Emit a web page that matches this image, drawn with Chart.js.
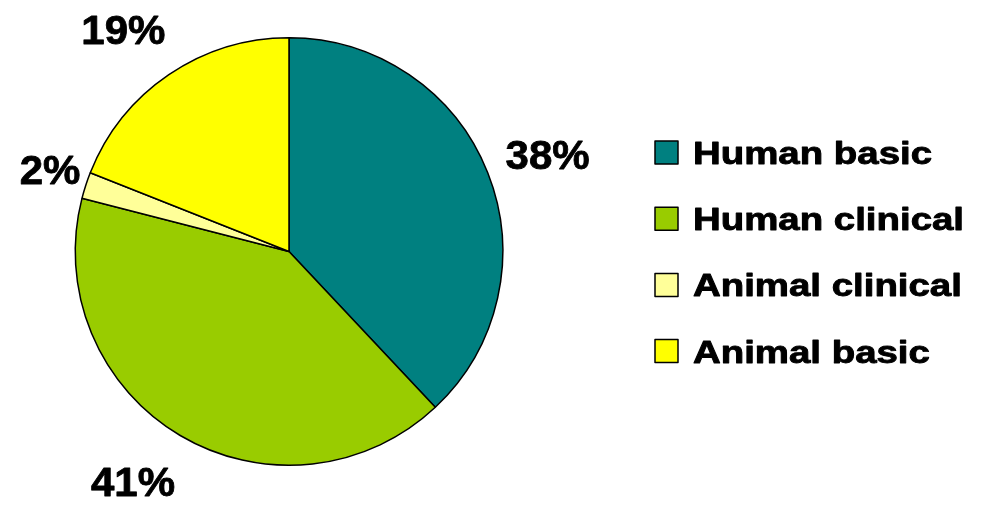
<!DOCTYPE html>
<html>
<head>
<meta charset="utf-8">
<title>Research distribution</title>
<script src="https://cdn.jsdelivr.net/npm/chart.js@4.4.1/dist/chart.umd.min.js"></script>
<style>
  html, body { margin: 0; padding: 0; background: #fff; }
  #wrap { width: 986px; height: 505px; position: relative; }
</style>
</head>
<body>
<div id="wrap"><canvas id="chart"></canvas></div>
<script>
// chart data
const categories = ['Human basic', 'Human clinical', 'Animal clinical', 'Animal basic'];
const shares = [38, 41, 2, 19];
const sliceColors = ['#008080', '#99CC00', '#FFFF99', '#FFFF00'];

// draws the percent labels round the pie and the legend on the right
const pieLabels = {
  id: 'pieLabels',
  afterDraw: function(chart, args, opts) {
    const ctx = chart.ctx;
    const meta = chart.getDatasetMeta(0);
    const ds = chart.data.datasets[0];

    ctx.save();
    ctx.fillStyle = '#000';
    ctx.strokeStyle = '#000';
    ctx.lineJoin = 'round';
    ctx.textBaseline = 'alphabetic';
    ctx.textAlign = 'center';
    ctx.font = 'bold 40px "Liberation Sans", Arial, sans-serif';
    meta.data.forEach(function(arc, i) {
      const mid = (arc.startAngle + arc.endAngle) / 2 + opts.angleNudge[i] * Math.PI / 180;
      const d = arc.outerRadius + opts.radialOffset[i];
      const x = arc.x + Math.cos(mid) * d;
      const y = arc.y + Math.sin(mid) * d;
      ctx.save();
      ctx.translate(x, y + 14.5);
      ctx.scale(1.05, 1);
      ctx.lineWidth = 0.8;
      ctx.fillText(ds.data[i] + '%', 0, 0);
      ctx.strokeText(ds.data[i] + '%', 0, 0);
      ctx.restore();
    });

    // legend
    ctx.textAlign = 'left';
    ctx.font = 'bold 32px "Liberation Sans", Arial, sans-serif';
    chart.data.labels.forEach(function(label, i) {
      const cy = opts.legendTop + i * opts.legendGap;
      ctx.fillStyle = ds.backgroundColor[i];
      ctx.fillRect(655, cy - 11.5, 23, 23);
      ctx.lineWidth = 1.5;
      ctx.strokeStyle = '#000';
      ctx.strokeRect(655, cy - 11.5, 23, 23);
      ctx.fillStyle = '#000';
      ctx.save();
      ctx.translate(693, cy + 11.5);
      ctx.scale(1.2, 1);
      ctx.lineWidth = 0.9;
      ctx.fillText(label, 0, 0);
      ctx.strokeText(label, 0, 0);
      ctx.restore();
    });
    ctx.restore();
  }
};

const ctx = document.getElementById('chart').getContext('2d');
var chart = new Chart(ctx, {
  type: 'pie',
  data: {
    labels: categories,
    datasets: [{
      data: shares,
      backgroundColor: sliceColors,
      borderColor: '#000',
      borderWidth: 1.5
    }]
  },
  options: {
    responsive: true,
    maintainAspectRatio: false,
    animation: false,
    events: [],
    layout: {
      padding: { left: 74.5, right: 482.5, top: 37, bottom: 39 }
    },
    plugins: {
      legend: { display: false },
      tooltip: { enabled: false },
      pieLabels: {
        radialOffset: [62.5, 64.5, 39, 63.5],
        angleNudge: [1, 3.5, 1, -2.5],
        legendTop: 152.5,
        legendGap: 66.2
      }
    }
  },
  plugins: [pieLabels]
});
</script>
</body>
</html>
